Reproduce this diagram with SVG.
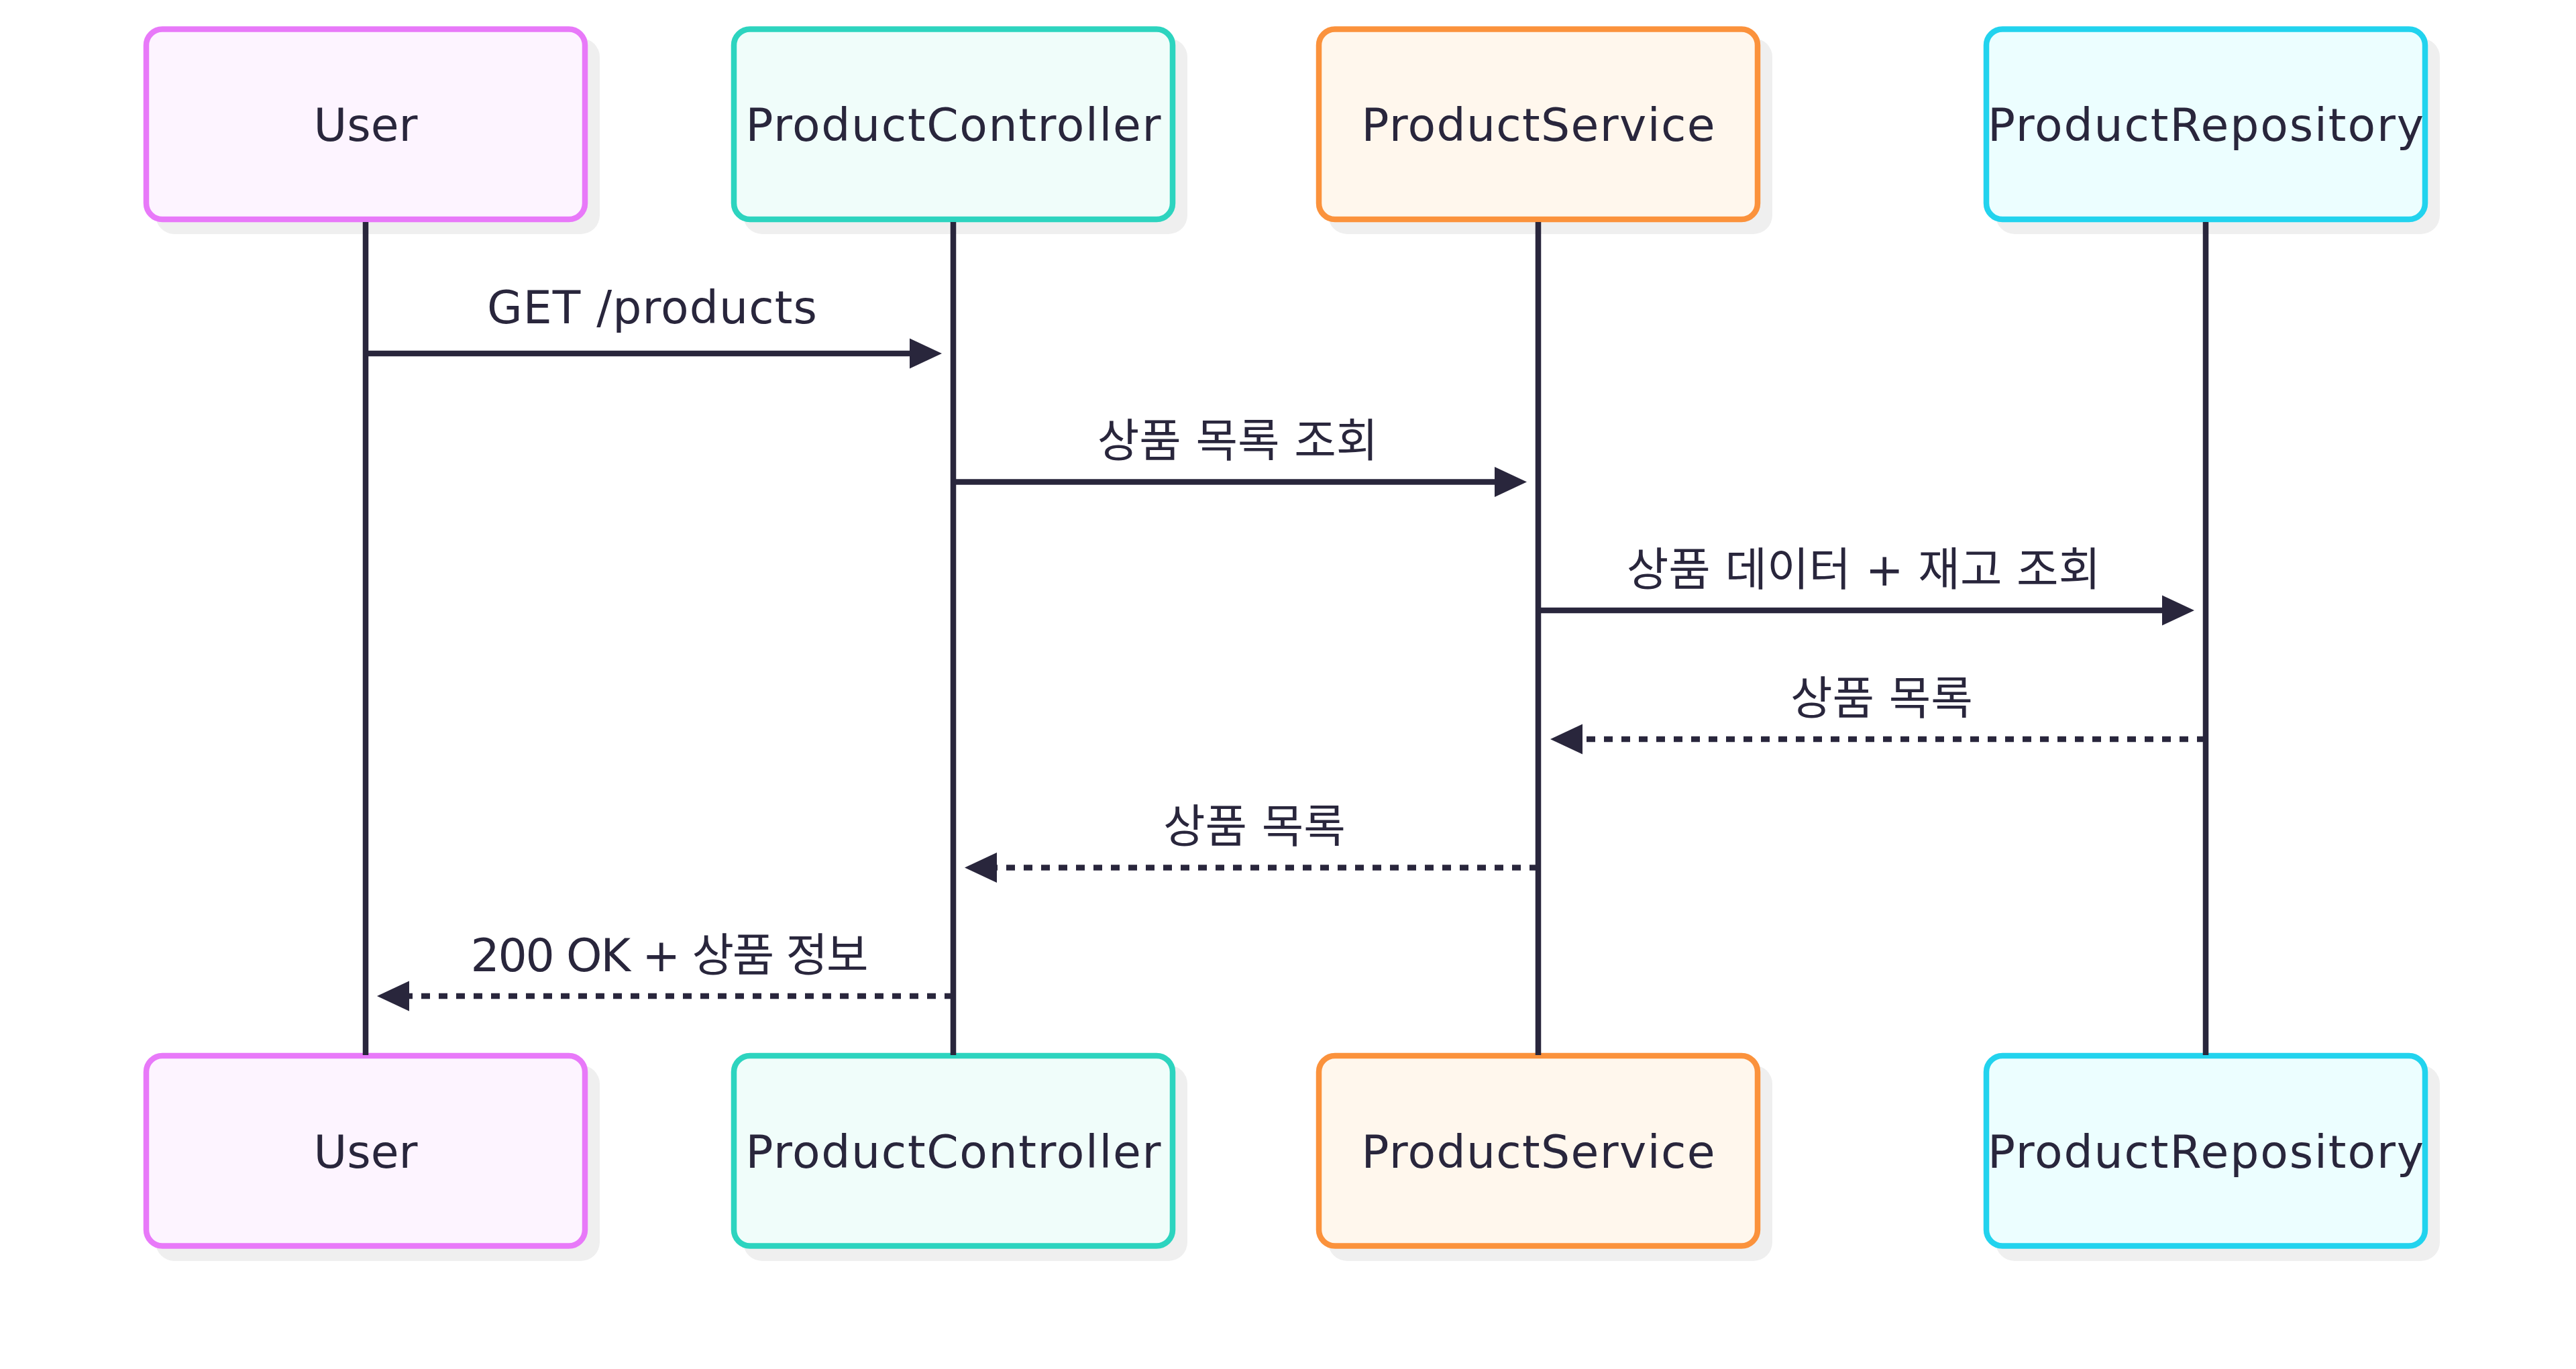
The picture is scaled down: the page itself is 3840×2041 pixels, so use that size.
<svg xmlns="http://www.w3.org/2000/svg" width="3840" height="2041" viewBox="0 0 3840 2041">
<style>
.shadow{fill:#efefef;stroke:none}
.box{stroke-width:8.5}
.lbl{font-family:"DejaVu Sans","Noto Sans CJK KR",sans-serif;font-size:68px;fill:#29263c;text-anchor:middle}
.life{stroke:#29263c;stroke-width:8.5;fill:none}
.msg{stroke:#29263c;stroke-width:8.5;fill:none}
.dot{stroke-dasharray:13 13}
.u{fill:#fdf4ff;stroke:#e879f9}
.c{fill:#f0fdfa;stroke:#2dd4bf}
.s{fill:#fff7ed;stroke:#fb923c}
.r{fill:#ecfeff;stroke:#22d3ee}
</style>
<defs>
<marker id="ah" markerUnits="userSpaceOnUse" markerWidth="50" markerHeight="46" refX="4" refY="22.5" orient="auto" viewBox="0 0 50 46" overflow="visible">
<path d="M0,0 L48,22.5 L0,45 z" fill="#29263c"/>
</marker>
</defs>
<rect width="3840" height="2041" fill="#ffffff"/>
<g id="actor-user-top">
<rect class="shadow" x="232" y="57" width="662" height="292" rx="28"/>
<rect class="box u" x="218" y="43.5" width="654" height="283.5" rx="24"/>
<text class="lbl" x="545" y="210">User</text>
</g>
<g id="actor-controller-top">
<rect class="shadow" x="1108" y="57" width="662" height="292" rx="28"/>
<rect class="box c" x="1094" y="43.5" width="654" height="283.5" rx="24"/>
<text class="lbl" x="1421" y="210" textLength="619" lengthAdjust="spacing">ProductController</text>
</g>
<g id="actor-service-top">
<rect class="shadow" x="1980" y="57" width="662" height="292" rx="28"/>
<rect class="box s" x="1966" y="43.5" width="654" height="283.5" rx="24"/>
<text class="lbl" x="2293" y="210" textLength="527" lengthAdjust="spacing">ProductService</text>
</g>
<g id="actor-repository-top">
<rect class="shadow" x="2975" y="57" width="662" height="292" rx="28"/>
<rect class="box r" x="2961" y="43.5" width="654" height="283.5" rx="24"/>
<text class="lbl" x="3288" y="210" textLength="650" lengthAdjust="spacing">ProductRepository</text>
</g>
<g id="actor-user-bottom">
<rect class="shadow" x="232" y="1588" width="662" height="292" rx="28"/>
<rect class="box u" x="218" y="1574" width="654" height="283.5" rx="24"/>
<text class="lbl" x="545" y="1740.5">User</text>
</g>
<g id="actor-controller-bottom">
<rect class="shadow" x="1108" y="1588" width="662" height="292" rx="28"/>
<rect class="box c" x="1094" y="1574" width="654" height="283.5" rx="24"/>
<text class="lbl" x="1421" y="1740.5" textLength="619" lengthAdjust="spacing">ProductController</text>
</g>
<g id="actor-service-bottom">
<rect class="shadow" x="1980" y="1588" width="662" height="292" rx="28"/>
<rect class="box s" x="1966" y="1574" width="654" height="283.5" rx="24"/>
<text class="lbl" x="2293" y="1740.5" textLength="527" lengthAdjust="spacing">ProductService</text>
</g>
<g id="actor-repository-bottom">
<rect class="shadow" x="2975" y="1588" width="662" height="292" rx="28"/>
<rect class="box r" x="2961" y="1574" width="654" height="283.5" rx="24"/>
<text class="lbl" x="3288" y="1740.5" textLength="650" lengthAdjust="spacing">ProductRepository</text>
</g>
<g id="lifelines">
<line class="life" x1="545" y1="331" x2="545" y2="1573"/>
<line class="life" x1="1421" y1="331" x2="1421" y2="1573"/>
<line class="life" x1="2293" y1="331" x2="2293" y2="1573"/>
<line class="life" x1="3288" y1="331" x2="3288" y2="1573"/>
</g>
<g id="messages">
<line class="msg" x1="545" y1="527" x2="1360" y2="527" marker-end="url(#ah)"/>
<text class="lbl" x="972" y="482" textLength="492" lengthAdjust="spacing">GET /products</text>
<line class="msg" x1="1421" y1="718.5" x2="2232" y2="718.5" marker-end="url(#ah)"/>
<text class="lbl" x="1845" y="681">상품 목록 조회</text>
<line class="msg" x1="2293" y1="910" x2="3227" y2="910" marker-end="url(#ah)"/>
<text class="lbl" x="2778" y="872.5">상품 데이터 + 재고 조회</text>
<line class="msg dot" x1="3288" y1="1102" x2="2355" y2="1102" marker-end="url(#ah)"/>
<text class="lbl" x="2805" y="1064.5">상품 목록</text>
<line class="msg dot" x1="2293" y1="1293.5" x2="1482" y2="1293.5" marker-end="url(#ah)"/>
<text class="lbl" x="1870" y="1256">상품 목록</text>
<line class="msg dot" x1="1421" y1="1485" x2="606" y2="1485" marker-end="url(#ah)"/>
<text class="lbl" x="998" y="1447.5" textLength="593" lengthAdjust="spacing">200 OK + 상품 정보</text>
</g>
</svg>
